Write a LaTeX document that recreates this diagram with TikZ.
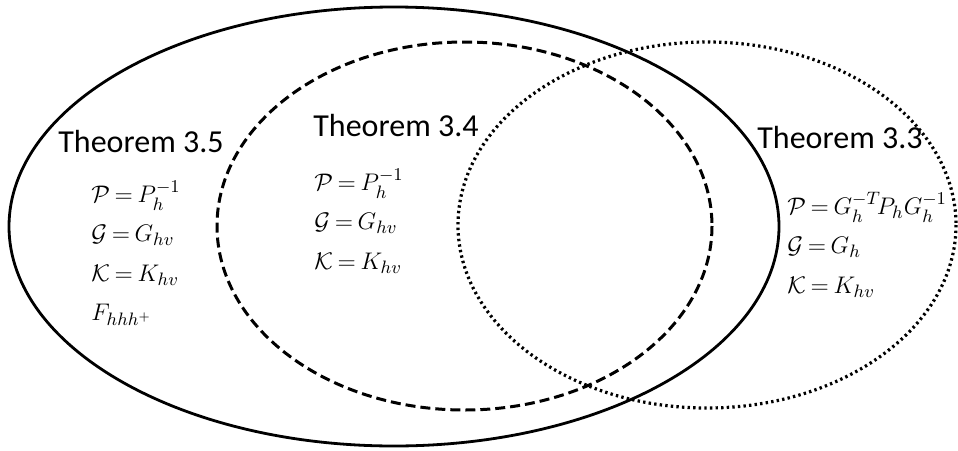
\documentclass[tikz,border=0pt]{standalone}
\usepackage{amsmath}
\usepackage{amssymb}
\usepackage[no-math]{fontspec}
\setmainfont{Carlito}
\usepackage{tikz}
\usetikzlibrary{positioning}
\thickmuskip=3.5mu plus 2mu\relax

\begin{document}
\begin{tikzpicture}[
      x=0.5pt, y=-0.5pt,
      node distance=0pt,
      thm/.style={font=\fontsize{16}{19}\selectfont, inner sep=0pt, anchor=base west},
      eqline/.style={font=\fontsize{13}{16}\selectfont, inner sep=0pt, text height=10pt, text depth=9.4pt},
      set35/.style={line width=1.4pt},
      set34/.style={line width=1.5pt, dash pattern=on 5pt off 2.5pt},
      set33/.style={line width=1.6pt, dash pattern=on 1.2pt off 1.6pt},
    ]
    \useasboundingbox (0,0) rectangle (958,450);
    % the three sets
    \draw[set35] (394,226.5) ellipse [x radius=385, y radius=219.5];
    \draw[set34] (464.5,226) ellipse [x radius=247.5, y radius=184];
    \draw[set33] (707,225) ellipse [x radius=249, y radius=183];
    % Theorem 3.5
    \node[thm] (t35) at (58,152) {Theorem 3.5};
    \node[eqline, anchor=base west] (p35) at (91,202) {$\mathcal{P}=P_h^{-1}$};
    \node[eqline, below=of p35.south west, anchor=north west] (g35) {$\mathcal{G}=G_{hv}$};
    \node[eqline, below=of g35.south west, anchor=north west] (k35) {$\mathcal{K}=K_{hv}$};
    \node[eqline, below=of k35.south west, anchor=north west] (f35) {$F_{hhh^+}$};
    % Theorem 3.4
    \node[thm] (t34) at (313,136) {Theorem 3.4};
    \node[eqline, anchor=base west] (p34) at (314,190) {$\mathcal{P}=P_h^{-1}$};
    \node[eqline, below=of p34.south west, anchor=north west] (g34) {$\mathcal{G}=G_{hv}$};
    \node[eqline, below=of g34.south west, anchor=north west] (k34) {$\mathcal{K}=K_{hv}$};
    % Theorem 3.3
    \node[thm] (t33) at (757,148) {Theorem 3.3};
    \node[eqline, anchor=base west] (p33) at (787,214) {$\mathcal{P}=G_h^{-T}\!P_hG_h^{-1}$};
    \node[eqline, below=of p33.south west, anchor=north west] (g33) {$\mathcal{G}=G_h$};
    \node[eqline, below=of g33.south west, anchor=north west] (k33) {$\mathcal{K}=K_{hv}$};
  \end{tikzpicture}
\end{document}
